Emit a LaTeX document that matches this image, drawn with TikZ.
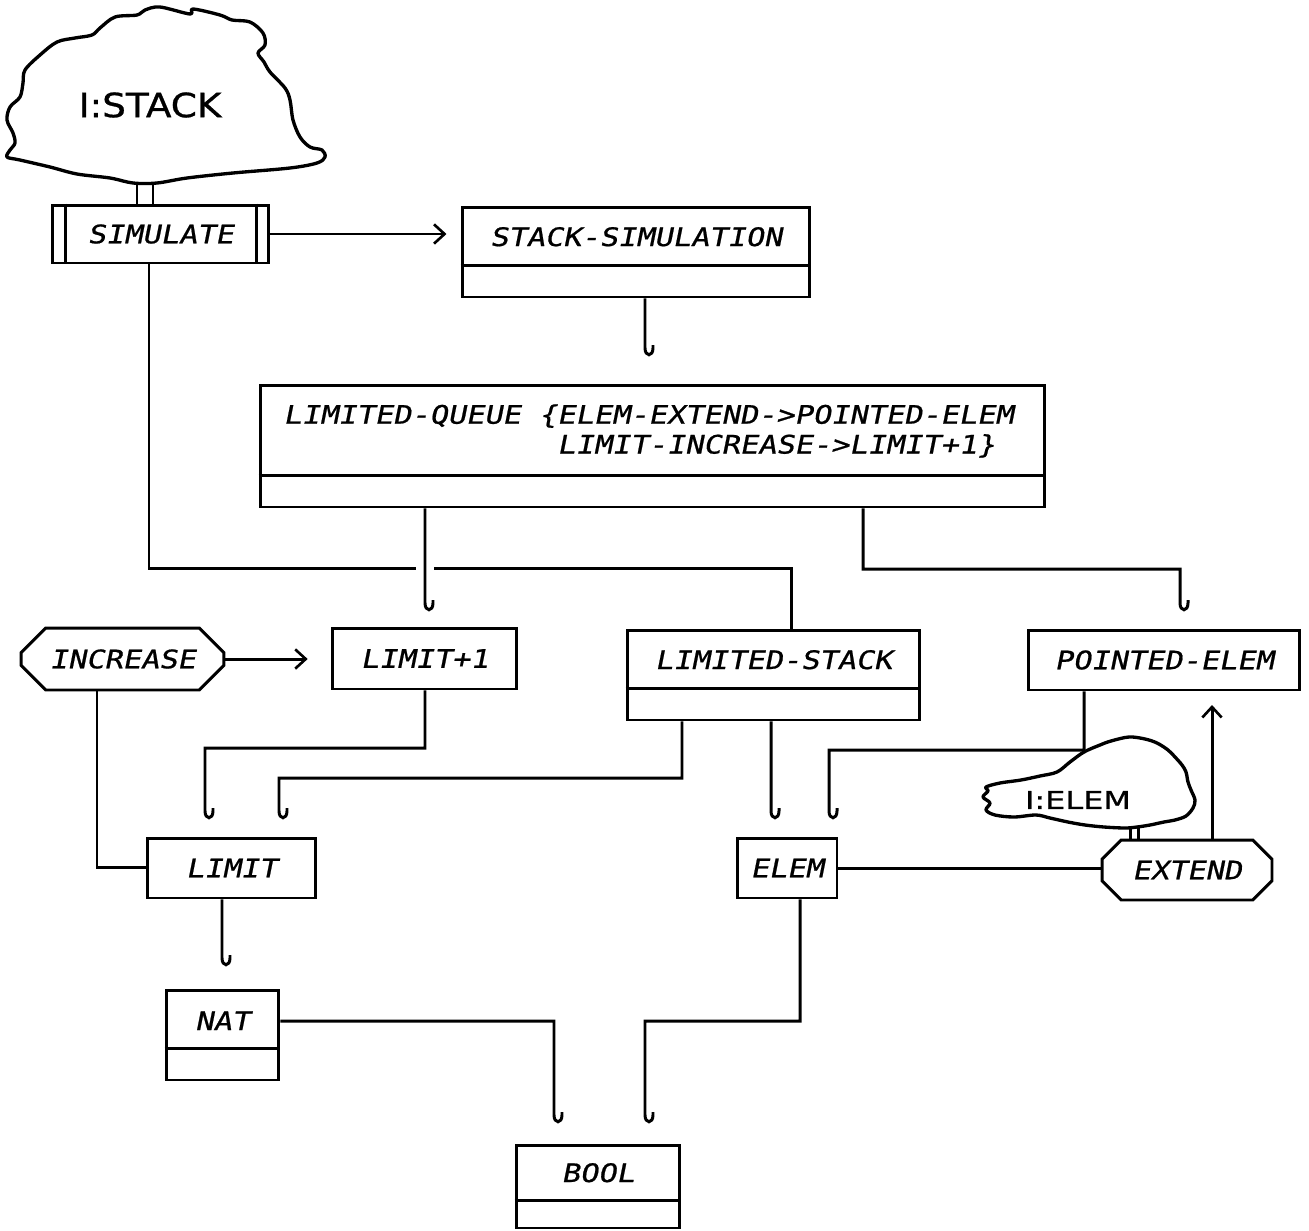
\documentclass[tikz,border=0pt]{standalone}
\usepackage{fontspec}
\usetikzlibrary{arrows.meta,shapes.misc}
\newfontfamily\pfont[FakeStretch=1.19,FakeSlant=0.2,FakeBold=0.8]{DejaVu Sans Mono}
\newfontfamily\hfonta[FakeStretch=1.12,FakeBold=0.8]{DejaVu Sans}
\newfontfamily\hfontb[FakeStretch=1.3,FakeBold=0.8]{DejaVu Sans}
\tikzset{
  box/.style={draw, line width=1.7pt, rectangle, inner sep=0pt, font=\pfont\fontsize{14.5pt}{17pt}\selectfont},
  hexa/.style={box, chamfered rectangle, chamfered rectangle xsep=#1, chamfered rectangle ysep=#1},
  hexa/.default=0.3cm,
  conn/.style={line width=1.7pt},
  arr/.style={conn, -{Straight Barb[length=6pt,width=11pt,line width=1.5pt]}},
  cloudline/.style={line width=1.9pt, fill=white, line join=round},
  hook/.style={insert path={.. controls +(0,9) and +(0,9) .. ++(8,0) -- ++(0,-3)}},
}
\begin{document}
\begin{tikzpicture}[x=0.02cm,y=-0.02cm]
\useasboundingbox (0,0) rectangle (1309,1231);

% ---------- cloud I:STACK ----------
\draw[cloudline] plot[smooth cycle, tension=0.55] coordinates {
 (25,70) (40,55) (57,42) (75,38) (92,35) (100,28) (115,17) (137,15) (145,10)
 (160,7) (190,14) (193,9) (220,15) (232,20) (250,22) (263,33) (265,45) (258,53)
 (264,62) (270,72) (285,88) (290,100) (293,120) (300,137) (310,147) (322,150)
 (325,157) (317,163) (290,168) (233,173) (187,178) (157,183) (133,183) (110,178)
 (77,174) (50,167) (20,160) (7,157) (10,150) (15,143) (13,133) (7,120) (10,107)
 (20,97) (23,83)};
\node[font=\hfonta\fontsize{19pt}{20pt}\selectfont] (cstack) at (150,105) {I:STACK};

% ---------- boxes ----------
\node[box, minimum width=4.34cm, minimum height=1.16cm] (sim) at (160.5,234) {SIMULATE};
\draw[conn] ([xshift=0.3cm]sim.north west) -- ([xshift=0.3cm]sim.south west);
\draw[conn] ([xshift=-0.28cm]sim.north east) -- ([xshift=-0.28cm]sim.south east);

\coordinate (st1) at (137,182);
\coordinate (st2) at (153,182);
\draw[conn] (st1) -- (st1 |- sim.north);
\draw[conn] (st2) -- (st2 |- sim.north);

\node[box, minimum width=6.96cm, text height=0.78cm, text depth=1.02cm, anchor=base] (ss) at (636,246) {STACK-SIMULATION};
\draw[conn] ([yshift=-1.2cm]ss.north west) -- ([yshift=-1.2cm]ss.north east);

\node[box, minimum width=15.7cm, minimum height=2.44cm] (lq) at (652.5,446) {};
\draw[conn] ([yshift=-1.84cm]lq.north west) -- ([yshift=-1.84cm]lq.north east);
\node[anchor=west, align=left, inner sep=0pt, font=\pfont\fontsize{14.5pt}{17pt}\selectfont] (lqt) at (283,431)
  {LIMITED-QUEUE \{ELEM-EXTEND->POINTED-ELEM\\\phantom{LIMITED-QUEUE \{}LIMIT-INCREASE->LIMIT+1\}};

\node[hexa=0.3cm, minimum width=4.06cm, minimum height=1.24cm] (inc) at (122.5,659) {INCREASE};
\node[box, minimum width=3.7cm, minimum height=1.22cm] (lp1) at (424.5,658.5) {LIMIT+1};
\node[box, minimum width=5.86cm, text height=0.78cm, text depth=1.02cm, anchor=base] (ls) at (773.5,669) {LIMITED-STACK};
\draw[conn] ([yshift=-1.2cm]ls.north west) -- ([yshift=-1.2cm]ls.north east);
\node[box, minimum width=5.44cm, minimum height=1.2cm] (pe) at (1164,660) {POINTED-ELEM};

\node[box, minimum width=3.38cm, minimum height=1.2cm] (limit) at (231.5,868) {LIMIT};
\node[box, minimum width=2.0cm, minimum height=1.2cm] (elem) at (787,868) {ELEM};
\node[hexa=0.2cm, minimum width=3.4cm, minimum height=1.2cm] (ext) at (1187,870) {EXTEND};

\node[box, minimum width=2.26cm, text height=0.8cm, text depth=1.0cm, anchor=base] (nat) at (222.5,1030) {NAT};
\draw[conn] ([yshift=-1.2cm]nat.north west) -- ([yshift=-1.2cm]nat.north east);
\node[box, minimum width=3.28cm, text height=0.74cm, text depth=0.92cm, anchor=base] (bool) at (598,1182) {BOOL};
\draw[conn] ([yshift=-1.14cm]bool.north west) -- ([yshift=-1.14cm]bool.north east);

% ---------- connectors ----------
\draw[arr, shorten >=8pt] (sim.east) -- (sim.east -| ss.west);
\draw[arr, shorten >=13pt] (inc.east) -- (lp1.west |- inc.east);

\coordinate (h0) at (645,348);
\draw[conn] (ss.south -| h0) -- (h0) [hook];

\coordinate (h1) at (425,603);
\draw[conn] (lq.south -| h1) -- (h1) [hook];

\coordinate (e1) at (863,569);
\coordinate (h2) at (1180,603);
\draw[conn] (lq.south -| e1) -- (e1) -- (e1 -| h2) -- (h2) [hook];

\coordinate (f1) at (149,568);
\coordinate (f2) at (416,568);
\coordinate (f3) at (434,568);
\coordinate (f4) at (791,568);
\draw[conn] (sim.south -| f1) -- (f1) -- (f2);
\draw[conn] (f3) -- (f4) -- (ls.north -| f4);

\coordinate (g1) at (97,867);
\draw[conn] (inc.south -| g1) -- (g1) -- (limit.west |- g1);

\coordinate (k1) at (425,748);
\coordinate (h3) at (205,811);
\draw[conn] (lp1.south -| k1) -- (k1) -- (k1 -| h3) -- (h3) [hook];

\coordinate (i1) at (682,778);
\coordinate (h4) at (279,811);
\draw[conn] (ls.south -| i1) -- (i1) -- (i1 -| h4) -- (h4) [hook];

\coordinate (h5) at (771,811);
\draw[conn] (ls.south -| h5) -- (h5) [hook];

\coordinate (k2) at (1084,750);
\coordinate (h6) at (829,811);
\draw[conn] (pe.south -| k2) -- (k2) -- (k2 -| h6) -- (h6) [hook];

\coordinate (a1) at (1212,705);
\draw[arr] (ext.north -| a1) -- (a1);

\draw[conn] (elem.east) -- (ext.west |- elem.east);

\coordinate (h7) at (222,958);
\draw[conn] (limit.south -| h7) -- (h7) [hook];

\coordinate (o1) at (554,1021);
\coordinate (h8) at (554,1115);
\draw[conn] (nat.east |- o1) -- (o1) -- (h8) [hook];

\coordinate (p1) at (800,1021);
\coordinate (h9) at (645,1115);
\draw[conn] (elem.south -| p1) -- (p1) -- (p1 -| h9) -- (h9) [hook];

% ---------- cloud I:ELEM ----------
\draw[cloudline] plot[smooth cycle, tension=0.55] coordinates {
 (986,787) (1000,783) (1021,780) (1040,776) (1057,772) (1070,762) (1084,752)
 (1100,745) (1111,741) (1129,737) (1145,739) (1157,743) (1168,750) (1175,757)
 (1182,765) (1186,772) (1188,782) (1191,790) (1195,800) (1193,808) (1186,816)
 (1175,820) (1164,822) (1150,825) (1137,827) (1125,828) (1104,827) (1085,825)
 (1068,822) (1050,818) (1036,815) (1014,817) (995,815) (986,810) (990,803)
 (983,797) (988,791)};
\node[font=\hfontb\fontsize{14pt}{15pt}\selectfont] (celem) at (1078,800) {I:ELEM};
\coordinate (st3) at (1130,827);
\coordinate (st4) at (1138,827);
\draw[conn] (st3) -- (st3 |- ext.north);
\draw[conn] (st4) -- (st4 |- ext.north);
\end{tikzpicture}
\end{document}
